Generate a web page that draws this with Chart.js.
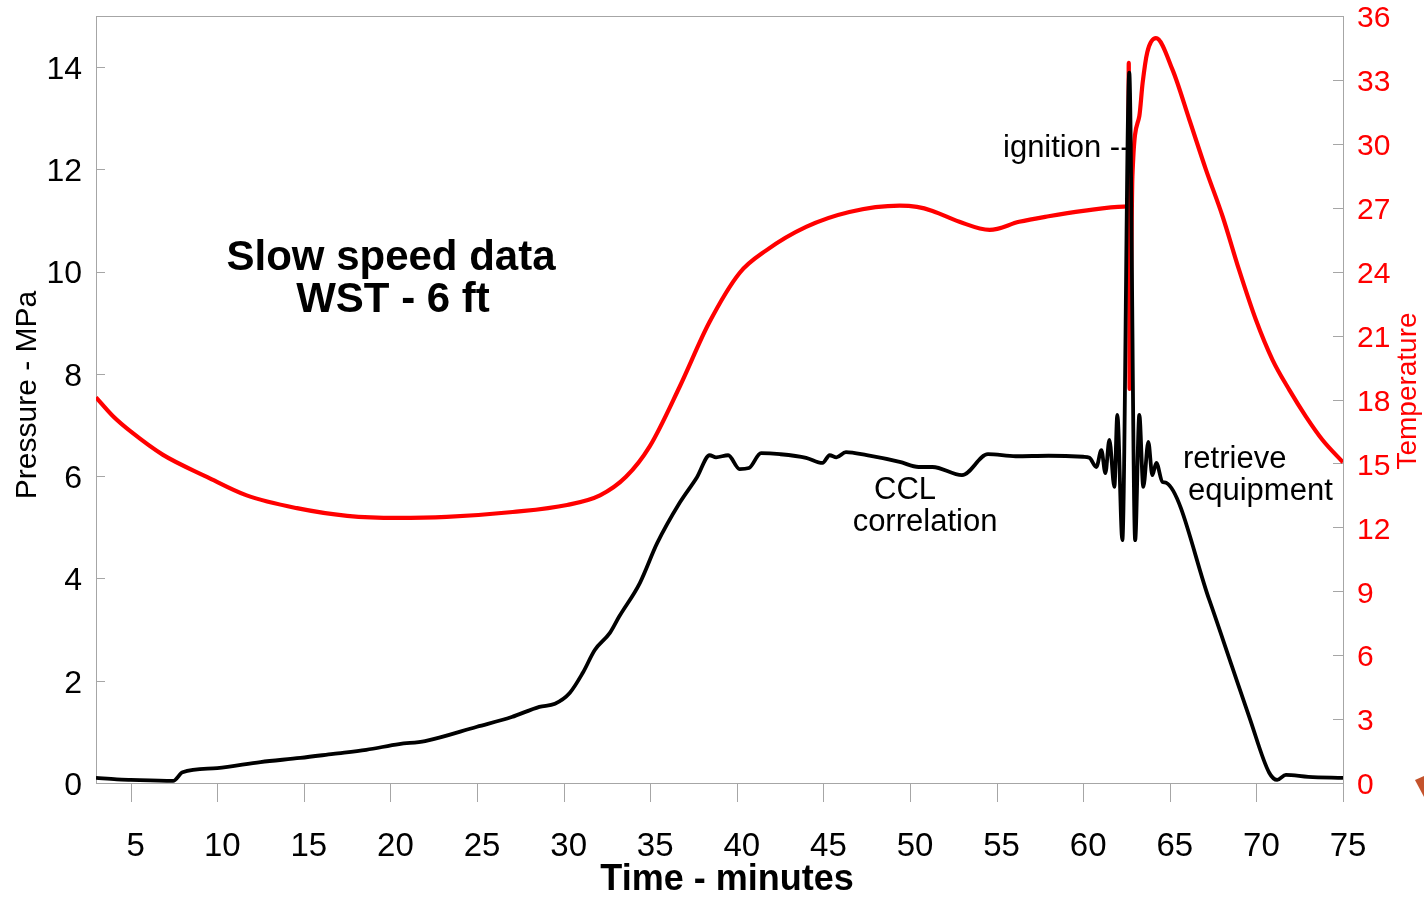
<!DOCTYPE html>
<html lang="en">
<head>
<meta charset="UTF-8">
<title>Slow speed data - WST - 6 ft</title>
<script src="https://cdn.jsdelivr.net/npm/chart.js"></script>
<style>
    html, body {
        margin: 0;
        padding: 0;
        background: #fff;
    }
    #wrap {
        width: 1424px;
        height: 900px;
    }
</style>
</head>
<body>
<div id="wrap"><canvas id="wstChart" width="1424" height="900"></canvas></div>
<script>
// pressure trace (left axis, MPa)
const pressureTime = [3, 4.2, 5, 7.45, 8.0, 10, 12.5, 14.8, 16.7, 18.6, 20.5, 22, 25, 27, 28.6, 29.5, 30.35, 31.1, 31.8, 32.66,
    33.2, 34.4, 35.4, 36.7, 37.7, 38.43, 38.8, 39.5, 40.16, 40.7, 41.4, 42.5, 44.0, 44.95, 45.36, 45.75, 46.3, 47.5, 49.4, 50.5,
    51.3, 53.0, 54.5, 56.1, 58, 60, 60.36, 60.76, 61.05, 61.28, 61.51, 61.8, 61.97, 62.26, 62.66, 63.0, 63.24, 63.47, 63.76, 63.99,
    64.22, 64.57, 64.8, 67.28, 68.6, 69.59, 70.74, 71.2, 71.7, 73, 75];
const pressureMPa = [0.1, 0.07, 0.06, 0.04, 0.21, 0.29, 0.41, 0.49, 0.57, 0.65, 0.76, 0.82, 1.1, 1.29, 1.49, 1.55, 1.76, 2.15, 2.6, 2.93,
    3.25, 3.91, 4.69, 5.48, 5.98, 6.41, 6.37, 6.41, 6.14, 6.16, 6.45, 6.43, 6.36, 6.26, 6.41, 6.37, 6.47, 6.41, 6.28, 6.18,
    6.18, 6.02, 6.43, 6.39, 6.4, 6.38, 6.36, 6.18, 6.51, 6.06, 6.71, 5.79, 7.2, 4.75, 13.89, 4.75, 7.2, 5.79, 6.67, 6.02,
    6.26, 5.89, 5.87, 3.58, 2.27, 1.29, 0.2, 0.06, 0.16, 0.12, 0.1];

// temperature trace (right axis)
const tempTime = [3, 4.0, 5.0, 6.87, 9.4, 11.7, 14.6, 17.5, 20.4, 23.25, 27.06, 30.2, 32.1, 33.6, 34.97, 36.7, 38.4, 40.16, 41.7, 44.0,
    46.5, 49.4, 50.4, 51.3, 52.85, 54.6, 56.3, 58, 60, 62.35, 62.6, 62.63, 62.68, 62.84, 63.24, 63.43, 63.7, 64.2, 65.16, 66.13,
    67.09, 68.05, 69.0, 69.97, 70.93, 71.9, 72.86, 73.82, 75];
const temperature = [18.1, 17.2, 16.5, 15.4, 14.37, 13.5, 12.9, 12.54, 12.44, 12.49, 12.72, 13.05, 13.5, 14.37, 15.8, 18.6, 21.6, 23.94, 25.0, 26.1,
    26.8, 27.1, 27.04, 26.85, 26.34, 25.96, 26.34, 26.6, 26.85, 27.05, 27.1, 33.8, 18.5, 28.45, 31.3, 32.85, 34.3, 34.96, 33.47, 31.13,
    28.78, 26.59, 24.08, 21.74, 19.86, 18.45, 17.2, 16.1, 15.05];

const timeTicks = [5, 10, 15, 20, 25, 30, 35, 40, 45, 50, 55, 60, 65, 70, 75];
const pressureTicks = [0, 2, 4, 6, 8, 10, 12, 14];
const tempTicks = [0, 3, 6, 9, 12, 15, 18, 21, 24, 27, 30, 33, 36];

const FONT = '"Liberation Sans", Arial, Helvetica, sans-serif';
const AXIS_GREY = '#a6a6a6';

// frame + short tick marks (inside on y axes, below on the time axis)
const frameTicks = {
    id: 'frameTicks',
    beforeDatasetsDraw(chart) {
        const { ctx, chartArea: a, scales } = chart;
        ctx.save();
        ctx.strokeStyle = AXIS_GREY;
        ctx.lineWidth = 1;
        ctx.strokeRect(a.left + 0.5, a.top + 0.5, a.right - a.left, a.bottom - a.top);
        ctx.beginPath();
        scales.x.ticks.forEach(t => {
            const px = Math.round(scales.x.getPixelForValue(t.value)) + 0.5;
            ctx.moveTo(px, a.bottom);
            ctx.lineTo(px, a.bottom + 19);
        });
        scales.y.ticks.forEach(t => {
            const py = Math.round(scales.y.getPixelForValue(t.value)) + 0.5;
            ctx.moveTo(a.left, py);
            ctx.lineTo(a.left + 9, py);
        });
        scales.y1.ticks.forEach(t => {
            const py = Math.round(scales.y1.getPixelForValue(t.value)) + 0.5;
            ctx.moveTo(a.right - 10, py);
            ctx.lineTo(a.right, py);
        });
        ctx.stroke();
        ctx.restore();
    }
};

// titles and notes on the plot
const notes = {
    id: 'notes',
    afterDraw(chart) {
        const ctx = chart.ctx;
        ctx.save();
        ctx.textBaseline = 'middle';
        ctx.fillStyle = '#000';

        ctx.textAlign = 'center';
        ctx.font = 'bold 42px ' + FONT;
        ctx.fillText('Slow speed data', 391, 258);
        ctx.fillText('WST - 6 ft', 393, 300);

        ctx.font = 'bold 36px ' + FONT;
        ctx.fillText('Time - minutes', 727, 880);

        ctx.font = '31px ' + FONT;
        ctx.fillText('CCL', 905, 490);
        ctx.fillText('correlation', 925, 522);

        ctx.textAlign = 'left';
        ctx.fillText('ignition --', 1003, 148);
        ctx.fillText('retrieve', 1183, 459);
        ctx.fillText('equipment', 1188, 491);

        ctx.textAlign = 'center';
        ctx.font = '30px ' + FONT;
        ctx.save();
        ctx.translate(28, 395);
        ctx.rotate(-Math.PI / 2);
        ctx.fillText('Pressure - MPa', 0, 0);
        ctx.restore();

        ctx.fillStyle = '#ff0000';
        ctx.font = '28px ' + FONT;
        ctx.save();
        ctx.translate(1408, 391);
        ctx.rotate(-Math.PI / 2);
        ctx.fillText('Temperature', 0, 0);
        ctx.restore();

        // small marker at the lower right edge of the slide
        ctx.fillStyle = '#c4532c';
        ctx.beginPath();
        ctx.moveTo(1415, 780);
        ctx.lineTo(1424, 776);
        ctx.lineTo(1424, 797);
        ctx.closePath();
        ctx.fill();
        ctx.restore();
    }
};

// fixed axis boxes so the plot area sits where the original one does
function fitY(width) {
    return s => {
        s.width = width;
        s.paddingTop = 0;
        s.paddingBottom = 0;
    };
}

const ctx = document.getElementById('wstChart').getContext('2d');
new Chart(ctx, {
    type: 'line',
    data: {
        datasets: [
            {
                label: 'Pressure',
                data: pressureTime.map((t, i) => ({ x: t, y: pressureMPa[i] })),
                yAxisID: 'y',
                borderColor: '#000000',
                borderWidth: 3.8,
                pointRadius: 0,
                cubicInterpolationMode: 'monotone'
            },
            {
                label: 'Temperature',
                data: tempTime.map((t, i) => ({ x: t, y: temperature[i] })),
                yAxisID: 'y1',
                borderColor: '#ff0000',
                borderWidth: 4.2,
                pointRadius: 0,
                cubicInterpolationMode: 'monotone'
            }
        ]
    },
    options: {
        responsive: false,
        animation: false,
        devicePixelRatio: 1,
        layout: { padding: { top: 16, left: 0, right: 0, bottom: 0 } },
        plugins: {
            legend: { display: false },
            tooltip: { enabled: false }
        },
        scales: {
            x: {
                type: 'linear',
                min: 3,
                max: 75,
                afterBuildTicks: s => { s.ticks = timeTicks.map(v => ({ value: v })); },
                afterFit: s => {
                    s.height = 117;
                    s.paddingLeft = 0;
                    s.paddingRight = 0;
                },
                grid: { display: false, drawTicks: false },
                border: { display: false },
                ticks: {
                    color: '#000',
                    font: { family: FONT, size: 33 },
                    padding: 44,
                    labelOffset: 5,
                    maxRotation: 0,
                    autoSkip: false
                }
            },
            y: {
                position: 'left',
                min: 0,
                max: 15,
                afterBuildTicks: s => { s.ticks = pressureTicks.map(v => ({ value: v })); },
                afterFit: fitY(96),
                grid: { display: false, drawTicks: false },
                border: { display: false },
                ticks: {
                    color: '#000',
                    font: { family: FONT, size: 32 },
                    padding: 14,
                    labelOffset: 3
                }
            },
            y1: {
                position: 'right',
                min: 0,
                max: 36,
                afterBuildTicks: s => { s.ticks = tempTicks.map(v => ({ value: v })); },
                afterFit: fitY(81),
                grid: { display: false, drawTicks: false },
                border: { display: false },
                ticks: {
                    color: '#ff0000',
                    font: { family: FONT, size: 30 },
                    padding: 14,
                    labelOffset: 3
                }
            }
        }
    },
    plugins: [frameTicks, notes]
});
</script>
</body>
</html>
